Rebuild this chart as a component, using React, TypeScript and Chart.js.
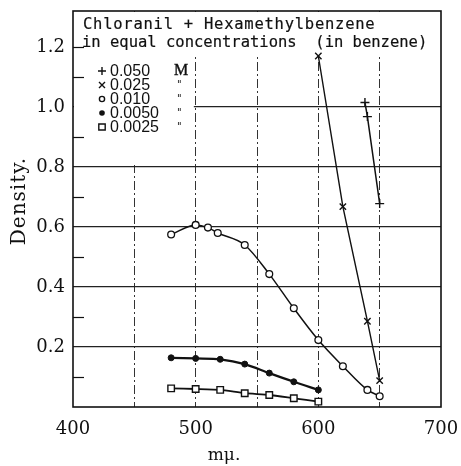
import React, { useEffect, useRef } from 'react';
import { Chart, registerables } from 'chart.js';

Chart.register(...registerables);

// ---- data (wavelength in mμ, density) ----
const wl050 = [638, 640, 650];
const d050 = [1.015, 0.968, 0.678];

const wl025 = [600, 620, 640, 650];
const d025 = [1.17, 0.668, 0.286, 0.088];

const wl010 = [480, 500, 510, 518, 540, 560, 580, 600, 620, 640, 650];
const d010 = [0.575, 0.607, 0.598, 0.58, 0.54, 0.443, 0.329, 0.223, 0.136, 0.057, 0.036];

const wl0050 = [480, 500, 520, 540, 560, 580, 600];
const d0050 = [0.164, 0.162, 0.159, 0.143, 0.113, 0.084, 0.057];

const wl0025 = [480, 500, 520, 540, 560, 580, 600];
const d0025 = [0.062, 0.06, 0.057, 0.046, 0.04, 0.029, 0.018];

const legendLabels = ['0.050', '0.025', '0.010', '0.0050', '0.0025'];
const yTickValues = [0.2, 0.4, 0.6, 0.8, 1.0, 1.2];
const yMinorTicks = [0.1, 0.3, 0.5, 0.7, 0.9, 1.1, 1.2];
const xTickValues = [400, 450, 500, 550, 600, 650, 700];
const titleLines = ['Chloranil + Hexamethylbenzene', 'in equal concentrations  (in benzene)'];

const pts = (xs: number[], ys: number[]) => xs.map((x, i) => ({ x, y: ys[i] }));

const INK = '#111';

function drawMarker(ctx: CanvasRenderingContext2D, kind: number, x: number, y: number) {
  ctx.save();
  ctx.strokeStyle = INK;
  ctx.fillStyle = INK;
  ctx.lineWidth = 1.4;
  ctx.beginPath();
  if (kind === 0) {
    ctx.moveTo(x - 4, y); ctx.lineTo(x + 4, y);
    ctx.moveTo(x, y - 4); ctx.lineTo(x, y + 4);
    ctx.stroke();
  } else if (kind === 1) {
    ctx.moveTo(x - 3, y - 3); ctx.lineTo(x + 3, y + 3);
    ctx.moveTo(x + 3, y - 3); ctx.lineTo(x - 3, y + 3);
    ctx.stroke();
  } else if (kind === 2) {
    ctx.arc(x, y, 2.6, 0, Math.PI * 2);
    ctx.stroke();
  } else if (kind === 3) {
    ctx.arc(x, y, 2.8, 0, Math.PI * 2);
    ctx.fill();
  } else {
    ctx.rect(x - 3.2, y - 3, 6.4, 6);
    ctx.stroke();
  }
  ctx.restore();
}

function boldText(ctx: CanvasRenderingContext2D, s: string, x: number, y: number, w = 0.2) {
  ctx.fillText(s, x, y);
  ctx.lineWidth = w;
  ctx.strokeStyle = INK;
  ctx.strokeText(s, x, y);
}

const decor = {
  id: 'decor',
  beforeDatasetsDraw(chart: any) {
    const { ctx, chartArea: a, scales } = chart;
    const xs = scales.x;
    const ys = scales.y;
    const titleBottom = ys.getPixelForValue(1.172);
    const legendRight = xs.getPixelForValue(498.5);
    const legendBottom = ys.getPixelForValue(0.8) - 1;
    ctx.save();
    ctx.fillStyle = '#fff';
    ctx.fillRect(a.left + 1, a.top + 1, a.right - a.left - 2, titleBottom - a.top - 1);
    ctx.fillRect(a.left + 1, titleBottom - 1, legendRight - a.left - 1, legendBottom - titleBottom);
    // short inner ticks on the left axis
    ctx.strokeStyle = INK;
    ctx.lineWidth = 1.2;
    for (const v of yMinorTicks) {
      const py = Math.round(ys.getPixelForValue(v)) + 0.5;
      ctx.beginPath();
      ctx.moveTo(a.left, py);
      ctx.lineTo(a.left + 11, py);
      ctx.stroke();
    }
    // frame
    ctx.setLineDash([]);
    ctx.lineWidth = 1.6;
    ctx.strokeRect(a.left, a.top, a.right - a.left, a.bottom - a.top);
    ctx.restore();
  },
  afterDraw(chart: any) {
    const { ctx, chartArea: a } = chart;
    ctx.save();
    ctx.fillStyle = INK;
    ctx.textBaseline = 'middle';
    ctx.textAlign = 'left';
    // title
    ctx.font = '15.5px "DejaVu Sans Mono"';
    (ctx as any).letterSpacing = '0.75px';
    boldText(ctx, titleLines[0], a.left + 10, 25);
    (ctx as any).letterSpacing = '0px';
    boldText(ctx, titleLines[1], a.left + 9, 43);
    // legend
    ctx.font = '16px "Liberation Sans"';
    legendLabels.forEach((lab, i) => {
      const y = 71 + i * 14;
      drawMarker(ctx, i, a.left + 29, y);
      ctx.fillText(lab, a.left + 37, y + 1);
    });
    ctx.font = '16px "Liberation Serif"';
    boldText(ctx, 'M', a.left + 101, 71, 0.4);
    ctx.font = '10px "DejaVu Sans"';
    for (let i = 1; i < 5; i++) ctx.fillText('"', a.left + 104, 71 + i * 14);
    // axis titles
    ctx.font = '20px "DejaVu Serif"';
    (ctx as any).letterSpacing = '1px';
    ctx.save();
    ctx.translate(20, 201);
    ctx.rotate(-Math.PI / 2);
    ctx.textAlign = 'center';
    ctx.fillText('Density.', 0, 0);
    ctx.restore();
    (ctx as any).letterSpacing = '0px';
    ctx.font = '17px "DejaVu Serif"';
    ctx.textAlign = 'center';
    ctx.fillText('mμ.', 224, 456);
    ctx.restore();
  },
};

export default function App() {
  const ref = useRef<HTMLCanvasElement>(null);
  useEffect(() => {
    const canvas = ref.current!;
    const line = { borderColor: INK, pointBorderColor: INK, showLine: true };
    const chart = new Chart(canvas, {
      type: 'scatter',
      data: {
        datasets: [
          {
            ...line, label: '0.050 M', data: pts(wl050, d050), borderWidth: 1.5,
            pointStyle: 'cross', pointRadius: 4.5, pointBorderWidth: 1.4, tension: 0,
          },
          {
            ...line, label: '0.025 M', data: pts(wl025, d025), borderWidth: 1.4,
            pointStyle: 'crossRot', pointRadius: 4.5, pointBorderWidth: 1.4, tension: 0,
          },
          {
            ...line, label: '0.010 M', data: pts(wl010, d010), borderWidth: 1.5,
            pointStyle: 'circle', pointRadius: 3.4, pointBorderWidth: 1.3, pointBackgroundColor: '#fff',
            cubicInterpolationMode: 'monotone',
          },
          {
            ...line, label: '0.0050 M', data: pts(wl0050, d0050), borderWidth: 2.2,
            pointStyle: 'circle', pointRadius: 3, pointBorderWidth: 1, pointBackgroundColor: INK,
            tension: 0.3,
          },
          {
            ...line, label: '0.0025 M', data: pts(wl0025, d0025), borderWidth: 1.8,
            pointStyle: 'rect', pointRadius: 4.6, pointBorderWidth: 1.4, pointBackgroundColor: '#fff',
            tension: 0.2,
          },
        ],
      } as any,
      options: {
        animation: false,
        responsive: false,
        layout: { padding: { top: 11, right: 20, left: 0, bottom: 0 } },
        plugins: { legend: { display: false }, tooltip: { enabled: false }, title: { display: false } },
        scales: {
          x: {
            type: 'linear',
            min: 400,
            max: 700,
            afterFit: (s: any) => { s.height = 59; s.paddingLeft = 0; s.paddingRight = 0; },
            afterBuildTicks: (s: any) => { s.ticks = xTickValues.map((v) => ({ value: v })); },
            ticks: {
              callback: (v: any) => (Number(v) % 100 === 0 ? String(v) : ''),
              font: { family: '"DejaVu Serif"', size: 18 },
              color: INK,
              padding: 12,
              maxRotation: 0,
              autoSkip: false,
            },
            grid: {
              drawTicks: false,
              color: (c: any) => (c.tick && c.tick.value > 400 && c.tick.value < 700 ? '#333' : 'rgba(0,0,0,0)'),
              lineWidth: 1,
            },
            border: { display: false, dash: [9, 3, 2, 3] },
          } as any,
          y: {
            type: 'linear',
            min: 0,
            max: 1.32,
            afterFit: (s: any) => { s.width = 73; s.paddingTop = 0; s.paddingBottom = 0; },
            afterBuildTicks: (s: any) => { s.ticks = yTickValues.map((v) => ({ value: v })); },
            ticks: {
              callback: (v: any) => Number(v).toFixed(1),
              font: { family: '"DejaVu Serif"', size: 18 },
              color: INK,
              padding: 8,
              autoSkip: false,
            },
            grid: {
              drawTicks: false,
              color: (c: any) => (c.tick && c.tick.value > 0.01 && c.tick.value < 1.1 ? '#222' : 'rgba(0,0,0,0)'),
              lineWidth: 1.2,
            },
            border: { display: false },
          } as any,
        },
      },
      plugins: [decor],
    } as any);
    return () => chart.destroy();
  }, []);
  return (
    <div style={{ position: 'absolute', left: 0, top: 0, width: 461, height: 466, background: '#fff' }}>
      <canvas ref={ref} width={461} height={466} style={{ display: 'block' }} />
    </div>
  );
}
